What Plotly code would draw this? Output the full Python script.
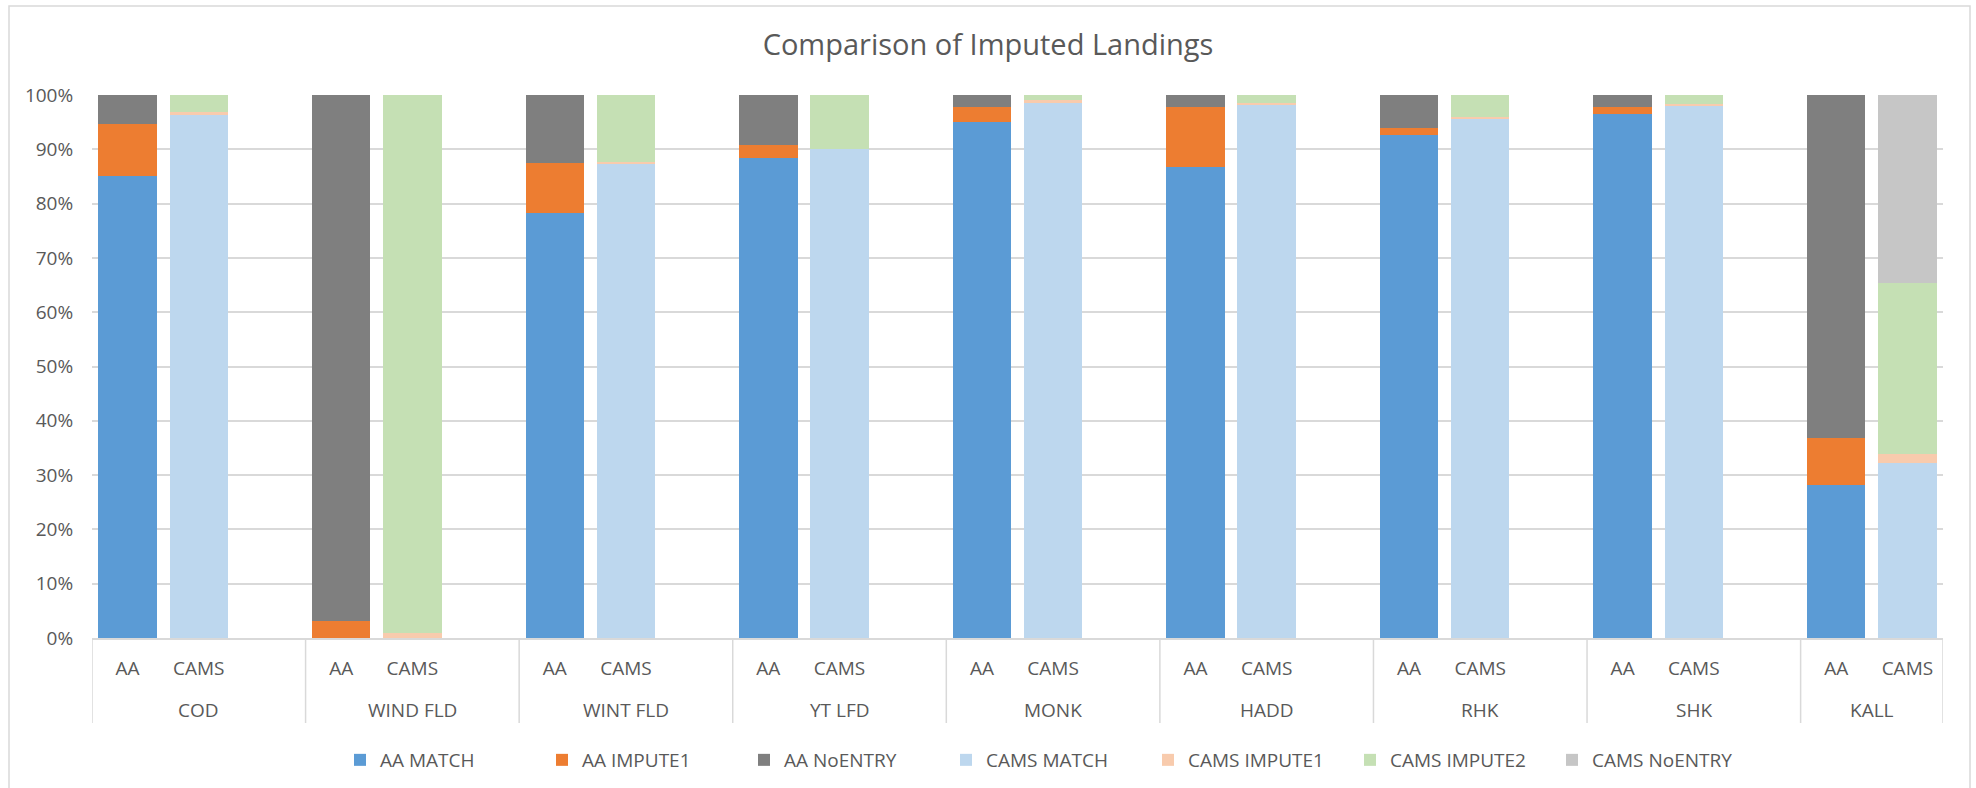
import plotly.graph_objects as go

# Species groups and the two data sources shown for each
species = ["COD", "WIND FLD", "WINT FLD", "YT LFD", "MONK", "HADD", "RHK", "SHK", "KALL"]
sources = ["AA", "CAMS"]

# Share of landings (%) by match status
aa_match = [85.0, 0.0, 78.2, 88.4, 95.1, 86.7, 92.7, 96.5, 28.2]
aa_impute1 = [9.6, 3.1, 9.2, 2.4, 2.7, 11.1, 1.3, 1.3, 8.7]
aa_noentry = [5.4, 96.9, 12.6, 9.2, 2.2, 2.2, 6.0, 2.2, 63.1]

cams_match = [96.3, 0.0, 87.4, 90.1, 98.5, 98.1, 95.5, 97.9, 32.2]
cams_impute1 = [0.5, 0.9, 0.3, 0.0, 0.6, 0.4, 0.4, 0.4, 1.7]
cams_impute2 = [3.2, 99.1, 12.3, 9.9, 0.9, 1.5, 4.1, 1.7, 31.4]
cams_noentry = [0.0, 0.0, 0.0, 0.0, 0.0, 0.0, 0.0, 0.0, 34.7]

y_ticks = [0, 10, 20, 30, 40, 50, 60, 70, 80, 90, 100]
y_tick_labels = ["0%", "10%", "20%", "30%", "40%", "50%", "60%", "70%", "80%", "90%", "100%"]

# Each species takes three slots (AA, CAMS, spacer); the last has no spacer
SLOTS_PER_GROUP = 3
x_aa = [SLOTS_PER_GROUP * i for i in range(len(species))]
x_cams = [SLOTS_PER_GROUP * i + 1 for i in range(len(species))]
x_max = x_cams[-1] + 0.5

FONT = "Open Sans"
TEXT = "#595959"
GRID = "#d9d9d9"

W, H = 1976, 788
M_L, M_R, M_T, M_B = 92, 33, 95, 150
plot_h = H - M_T - M_B
plot_w = W - M_L - M_R

series = [
    ("AA MATCH", x_aa, aa_match, "#5b9bd5"),
    ("AA IMPUTE1", x_aa, aa_impute1, "#ed7d31"),
    ("AA NoENTRY", x_aa, aa_noentry, "#7f7f7f"),
    ("CAMS MATCH", x_cams, cams_match, "#bdd7ee"),
    ("CAMS IMPUTE1", x_cams, cams_impute1, "#f8cbad"),
    ("CAMS IMPUTE2", x_cams, cams_impute2, "#c5e0b4"),
    ("CAMS NoENTRY", x_cams, cams_noentry, "#c6c6c6"),
]

fig = go.Figure()
for name, xs, ys, color in series:
    fig.add_trace(go.Bar(
        name=name, x=xs, y=ys, width=0.82,
        marker=dict(color=color, line=dict(width=0)),
    ))

# Source labels (AA / CAMS) as x tick labels
tick_vals = []
tick_text = []
for a, c in zip(x_aa, x_cams):
    tick_vals += [a, c]
    tick_text += sources

shapes = []
annotations = []
div_bottom = -(723 - (H - M_B)) / plot_h
# Group dividers under the category axis
bounds = [-0.5] + [SLOTS_PER_GROUP * (i + 1) - 0.5 for i in range(len(species) - 1)] + [x_max]
for b in bounds:
    shapes.append(dict(type="line", xref="x", yref="paper", x0=b, x1=b,
                       y0=0, y1=div_bottom, line=dict(color=GRID, width=1.5)))
# Species labels centred on their groups
group_y = -(710 - (H - M_B)) / plot_h
for i, name in enumerate(species):
    lo, hi = bounds[i], bounds[i + 1]
    annotations.append(dict(x=(lo + hi) / 2, y=group_y, xref="x", yref="paper",
                            text=name, showarrow=False, yanchor="middle",
                            font=dict(family=FONT, size=19, color=TEXT)))

# Light frame around the whole chart area
def px_x(px):
    return (px - M_L) / plot_w

def px_y(py):
    return (H - M_B - py) / plot_h

shapes.append(dict(type="rect", xref="paper", yref="paper",
                   x0=px_x(9), x1=px_x(1970), y0=px_y(6), y1=px_y(792),
                   line=dict(color=GRID, width=1.5), fillcolor="rgba(0,0,0,0)", layer="below"))

fig.update_layout(
    width=W, height=H,
    margin=dict(l=M_L, r=M_R, t=M_T, b=M_B, autoexpand=False),
    paper_bgcolor="white", plot_bgcolor="white",
    barmode="stack", bargap=0,
    font=dict(family=FONT, color=TEXT, size=19),
    title=dict(text="Comparison of Imputed Landings", x=0.5, xref="container",
               y=1 - 45 / H, yref="container", yanchor="middle", xanchor="center",
               font=dict(family=FONT, size=29, color=TEXT)),
    xaxis=dict(range=[-0.5, x_max], tickmode="array", tickvals=tick_vals, ticktext=tick_text,
               showgrid=False, zeroline=False, showline=True, linecolor=GRID, linewidth=1.5,
               ticks="outside", ticklen=12, tickcolor="rgba(0,0,0,0)",
               tickfont=dict(family=FONT, size=19, color=TEXT)),
    yaxis=dict(range=[0, 100], tickmode="array", tickvals=y_ticks, ticktext=y_tick_labels,
               showgrid=True, gridcolor=GRID, gridwidth=1.5, zeroline=False, showline=False,
               ticks="outside", ticklen=14, tickcolor="rgba(0,0,0,0)",
               tickfont=dict(family=FONT, size=19, color=TEXT)),
    legend=dict(orientation="h", xref="container", yref="container",
                x=340 / W, y=1 - 760 / H, xanchor="left", yanchor="middle",
                traceorder="normal", entrywidth=157, entrywidthmode="pixels",
                font=dict(family=FONT, size=19, color=TEXT), bgcolor="rgba(0,0,0,0)"),
    shapes=shapes, annotations=annotations,
    showlegend=True,
)

fig.write_html("out.html")
